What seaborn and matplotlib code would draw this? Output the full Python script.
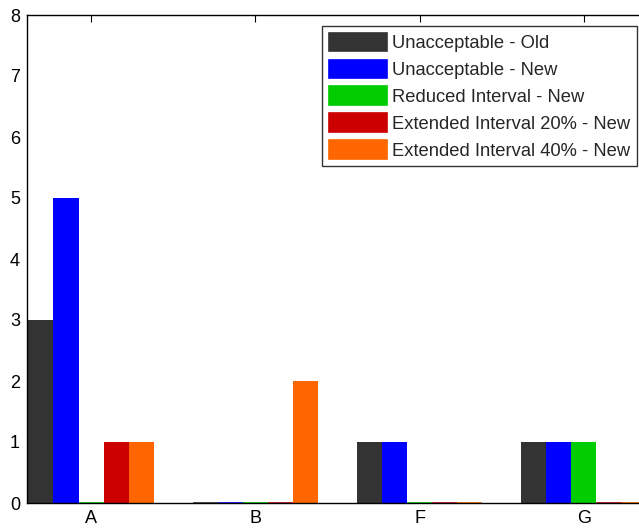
import matplotlib
matplotlib.use("Agg")
import matplotlib.pyplot as plt
import seaborn as sns
import pandas as pd

categories = ["A", "B", "F", "G"]
series = ["Unacceptable - Old", "Unacceptable - New", "Reduced Interval - New",
          "Extended Interval 20% - New", "Extended Interval 40% - New"]
unacc_old = [3, 0, 1, 1]
unacc_new = [5, 0, 1, 1]
reduced_new = [0, 0, 0, 1]
ext20_new = [1, 0, 0, 0]
ext40_new = [1, 2, 0, 0]
colors = ["#333333", "#0000FF", "#00CC00", "#CC0000", "#FF6600"]

rows = []
for s, vals in zip(series, [unacc_old, unacc_new, reduced_new, ext20_new, ext40_new]):
    for c, v in zip(categories, vals):
        rows.append({"cat": c, "series": s, "value": v})
df = pd.DataFrame(rows)

sns.set_style("white")
plt.rcParams['font.family'] = ['Liberation Sans', 'DejaVu Sans']

fig = plt.figure(figsize=(6.39, 5.30), dpi=100)
ax = fig.add_axes([27/639, 27/530, 621/639, 488/530])

sns.barplot(data=df, x="cat", y="value", hue="series", hue_order=series,
            order=categories, palette=colors, width=0.765, saturation=1,
            errorbar=None, ax=ax, edgecolor="none", linewidth=0)

# show zero-height bars as thin lines like the original
for patch in ax.patches:
    if patch.get_height() == 0:
        patch.set_edgecolor(patch.get_facecolor())
        patch.set_linewidth(1.2)

ax.set_xlim(-0.39, 3.39)
ax.set_ylim(0, 8)
ax.set_yticks(range(0, 9))
ax.set_xlabel("")
ax.set_ylabel("")
for sp in ax.spines.values():
    sp.set_visible(True)
    sp.set_color("black")
    sp.set_linewidth(1.0)
ax.tick_params(direction="in", length=5, width=0.8, top=True, right=True,
               labelsize=13, colors="black", pad=5)

leg = ax.legend(loc="upper right", bbox_to_anchor=(610/621, 1 - 11/488),
                fontsize=13.2, frameon=True, fancybox=False, edgecolor="black",
                handlelength=3.15, handleheight=1.2, labelspacing=0.40,
                borderpad=0.36, handletextpad=0.3, borderaxespad=0)
leg.get_frame().set_linewidth(1.0)

fig.savefig("out.png", dpi=100)
